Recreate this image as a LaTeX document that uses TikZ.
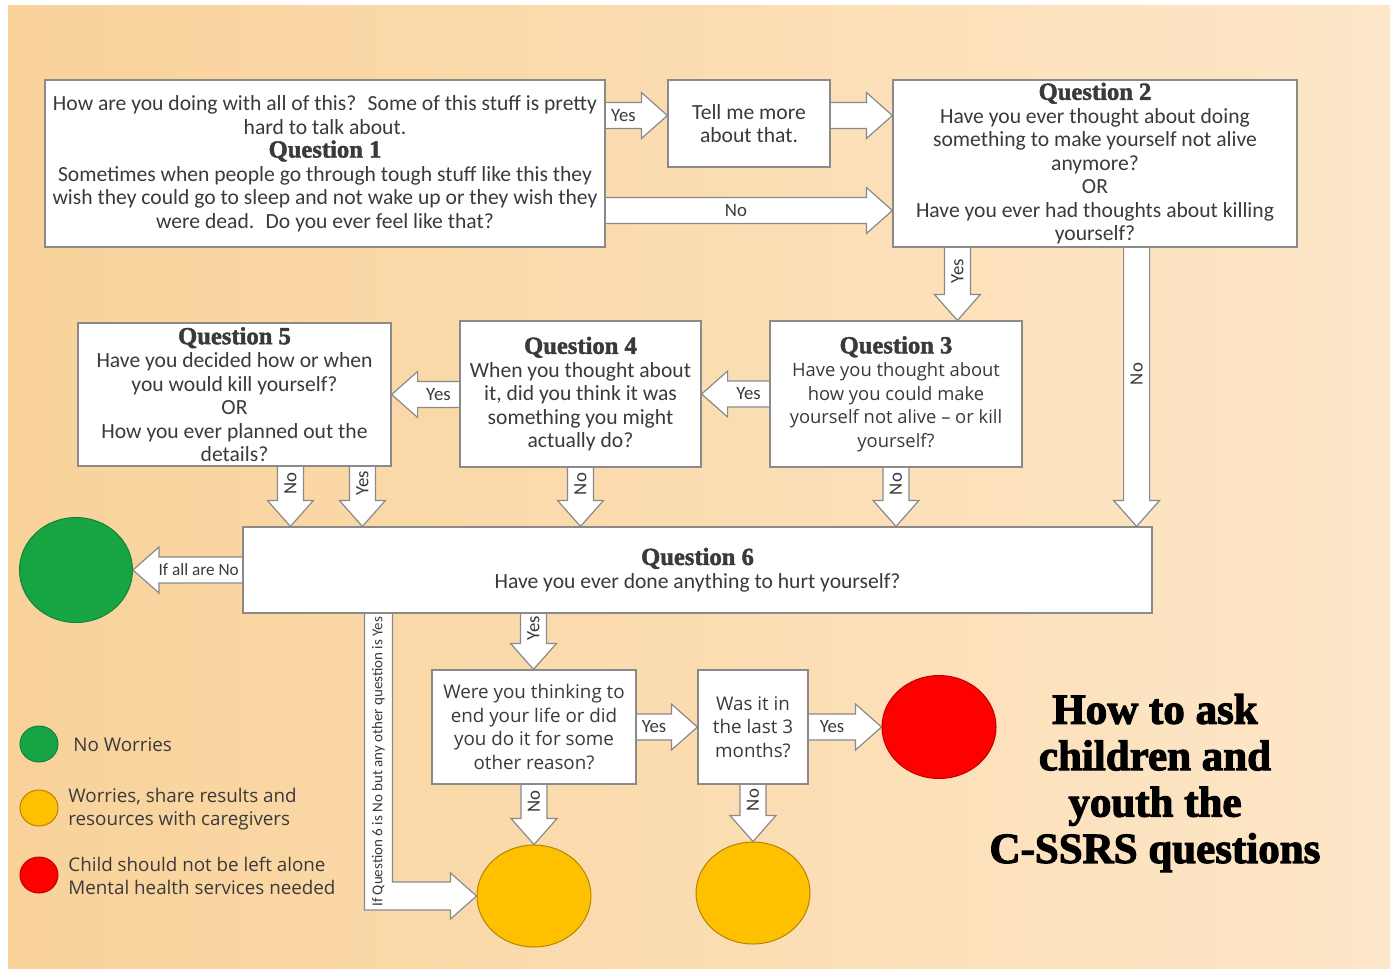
\documentclass[tikz,border=0pt]{standalone}
\usepackage{fontspec}
\setmainfont{Carlito}
\newfontfamily\widefont{Open Sans}
\newfontfamily\headfont[FakeBold=1.8]{Liberation Serif}
\newfontfamily\titlefont[FakeBold=2.6]{Liberation Serif}
\usetikzlibrary{calc, shapes.geometric, backgrounds}

\definecolor{bgleft}{HTML}{F9D29A}
\definecolor{bgright}{HTML}{FDE7C9}
\definecolor{boxline}{HTML}{8A8A8A}
\definecolor{txt}{HTML}{3A3A3A}
\definecolor{okgreen}{HTML}{17A443}
\definecolor{warnorange}{HTML}{FFC000}
\definecolor{dangerred}{HTML}{FF0000}

\newcommand{\shaftw}{6.5pt}
\newcommand{\headw}{11.5pt}
\newcommand{\headl}{13pt}
\newcommand{\qhead}[1]{{\headfont\bfseries\fontsize{12.3}{13}\selectfont #1}}

\tikzset{
  qbox/.style={draw=boxline, line width=0.6pt, fill=white, text=txt, align=center,
    inner sep=0pt, font=\fontsize{10.8}{11.75}\selectfont},
  widebox/.style={qbox, font=\widefont\fontsize{9.4}{11.75}\selectfont},
  blockarrow/.style={draw=boxline, line width=0.6pt, fill=white, line join=miter},
  arrowlabel/.style={text=txt, inner sep=0pt, font=\fontsize{9.4}{10}\selectfont},
  verdict/.style={ellipse, inner sep=0pt, line width=0.5pt},
  legendtext/.style={anchor=west, align=left, text=txt, inner sep=0pt,
    font=\widefont\fontsize{9.4}{11.75}\selectfont},
}

% block arrows: #2 gives the back end, #3 the tip
\newcommand{\arrowR}[4][]{%
  \begin{pgfonlayer}{background}
  \draw[blockarrow] let \p1=(#2), \p2=(#3) in
    (\x1,\y2+\shaftw) -- (\x2-\headl,\y2+\shaftw) -- (\x2-\headl,\y2+\headw) -- (\x2,\y2)
    -- (\x2-\headl,\y2-\headw) -- (\x2-\headl,\y2-\shaftw) -- (\x1,\y2-\shaftw)
    node[arrowlabel,#1] at ({(\x1+\x2-\headl)/2},\y2) {#4};
  \end{pgfonlayer}}
\newcommand{\arrowL}[4][]{%
  \begin{pgfonlayer}{background}
  \draw[blockarrow] let \p1=(#2), \p2=(#3) in
    (\x1,\y2+\shaftw) -- (\x2+\headl,\y2+\shaftw) -- (\x2+\headl,\y2+\headw) -- (\x2,\y2)
    -- (\x2+\headl,\y2-\headw) -- (\x2+\headl,\y2-\shaftw) -- (\x1,\y2-\shaftw)
    node[arrowlabel,#1] at ({(\x1+\x2+\headl)/2},\y2) {#4};
  \end{pgfonlayer}}
\newcommand{\arrowD}[4][]{%
  \begin{pgfonlayer}{background}
  \draw[blockarrow] let \p1=(#2), \p2=(#3) in
    (\x1-\shaftw,\y1) -- (\x1-\shaftw,\y2+\headl) -- (\x1-\headw,\y2+\headl) -- (\x1,\y2)
    -- (\x1+\headw,\y2+\headl) -- (\x1+\shaftw,\y2+\headl) -- (\x1+\shaftw,\y1)
    node[arrowlabel,rotate=90,#1] at (\x1,{(\y1+\y2+\headl)/2}) {#4};
  \end{pgfonlayer}}

\begin{document}
\begin{tikzpicture}[x=0.5pt, y=-0.5pt]
    \useasboundingbox (0,0) rectangle (1396,971);
    \begin{pgfonlayer}{background}
    \fill[white] (0,0) rectangle (1396,971);
    \shade[left color=bgleft, right color=bgright] (8,5) rectangle (1390,968);
    \end{pgfonlayer}

    % first row
    \node[qbox, minimum width=280pt, minimum height=83.5pt] (q1) at (325,163.5)
      {How are you doing with all of this?~ Some of this stuff is pretty\\
       hard to talk about.\\
       \qhead{Question 1}\\
       Sometimes when people go through tough stuff like this they\\
       wish they could go to sleep and not wake up or they wish they\\
       were dead.~ Do you ever feel like that?};
    \node[qbox, minimum width=81pt, minimum height=43.5pt] (tell) at (749,123.5)
      {Tell me more\\ about that.};
    \node[qbox, minimum width=202pt, minimum height=83.5pt] (q2) at (1095,163.5)
      {\qhead{Question 2}\\ Have you ever thought about doing\\
       something to make yourself not alive\\ anymore?\\ OR\\
       Have you ever had thoughts about killing\\ yourself?};

    % second row
    \node[widebox, font=\widefont\fontsize{9.2}{11.75}\selectfont,
      minimum width=126pt, minimum height=73pt] (q3) at (896,394)
      {\qhead{Question 3}\\ Have you thought about\\ how you could make\\
       yourself not alive \textendash{} or kill\\ yourself?};
    \node[qbox, minimum width=120.5pt, minimum height=73pt] (q4) at (580.5,394)
      {\qhead{Question 4}\\ When you thought about\\ it, did you think it was\\
       something you might\\ actually do?};
    \node[qbox, minimum width=156.5pt, minimum height=71.5pt] (q5) at (234.5,394.5)
      {\qhead{Question 5}\\ Have you decided how or when\\ you would kill yourself?\\
       OR\\ How you ever planned out the\\ details?};

    % question 6
    \node[qbox, minimum width=454.5pt, minimum height=43pt] (q6) at (697.5,570)
      {\qhead{Question 6}\\ Have you ever done anything to hurt yourself?};
    \node[verdict, fill=okgreen, draw=okgreen!80!black,
      minimum width=56.5pt, minimum height=52.5pt] (ok) at (76,570) {};

    % last row
    \node[widebox, minimum width=102pt, minimum height=57pt] (q7) at (534,727)
      {Were you thinking to\\ end your life or did\\ you do it for some\\ other reason?};
    \node[widebox, minimum width=55pt, minimum height=57pt] (q8) at (753,727)
      {Was it in\\ the last 3\\ months?};
    \node[verdict, fill=dangerred, draw=dangerred!75!black,
      minimum width=57pt, minimum height=51.5pt] (danger) at (939,727) {};
    \node[verdict, fill=warnorange, draw=warnorange!70!black,
      minimum width=57pt, minimum height=51pt] (warn1) at (534,896) {};
    \node[verdict, fill=warnorange, draw=warnorange!70!black,
      minimum width=57pt, minimum height=51pt] (warn2) at (753,893) {};

    % arrows
    \arrowR{q1.east}{$(tell.west)+(0,-8)$}{Yes}
    \arrowR{tell.east}{$(q2.west)+(0,-48)$}{}
    \arrowR{q1.east}{$(q2.west)+(0,47)$}{No}
    \arrowD{$(q2.south west)+(65,0)$}{q3.north}{Yes}
    \arrowD{$(q2.south east)+(-161,0)$}{q6.north}{No}
    \arrowL{q3.west}{q4.east}{Yes}
    \arrowL{q4.west}{q5.east}{Yes}
    \arrowD{$(q5.south west)+(213,0)$}{q6.north}{No}
    \arrowD{$(q5.south west)+(285,0)$}{q6.north}{Yes}
    \arrowD{q4.south}{q6.north}{No}
    \arrowD{q3.south}{q6.north}{No}
    \arrowL[font=\fontsize{8.6}{9}\selectfont, xshift=-1pt]{q6.west}{ok.east}{If all are No}
    \arrowD{$(q6.south)+(-164,0)$}{q7.north}{Yes}
    \arrowR{q7.east}{q8.west}{Yes}
    \arrowR{q8.east}{danger.west}{Yes}
    \arrowD{q7.south}{warn1.north}{No}
    \arrowD{q8.south}{warn2.north}{No}

    % bent arrow from question 6 to the first orange result
    \coordinate (bend) at ($(q6.south west)+(136,0)$);
    \begin{pgfonlayer}{background}
    \draw[blockarrow] let \p1=(bend), \p2=(warn1.west) in
      (\x1-7pt,\y1) -- (\x1-7pt,\y2-7pt) -- (\x2-\headl,\y2-7pt) -- (\x2-\headl,\y2-\headw)
      -- (\x2,\y2) -- (\x2-\headl,\y2+\headw) -- (\x2-\headl,\y2+7pt) -- (\x1+7pt,\y2+7pt)
      -- (\x1+7pt,\y1)
      node[arrowlabel, rotate=90, font=\fontsize{7.5}{8}\selectfont]
        at (\x1,{(\y1+\y2-7pt)/2}) {If Question 6 is No but any other question is Yes};
    \end{pgfonlayer}

    % legend
    \node[verdict, fill=okgreen, draw=okgreen!80!black, minimum width=19pt, minimum height=18pt] (lgok) at (39,744) {};
    \node[verdict, fill=warnorange, draw=warnorange!70!black, minimum width=19pt, minimum height=18pt] (lgwarn) at (39,808) {};
    \node[verdict, fill=dangerred, draw=dangerred!75!black, minimum width=19pt, minimum height=18pt] (lgdanger) at (39,875) {};
    \node[legendtext] (lgoktext) at (73,745) {No Worries};
    \node[legendtext] (lgwarntext) at (68,809) {Worries, share results and\\ resources with caregivers};
    \node[legendtext] (lgdangertext) at (68,876) {Child should not be left alone\\ Mental health services needed};

    % title
    \node[align=center, inner sep=0pt, font=\titlefont\bfseries\fontsize{21.5}{23.2}\selectfont] (title) at (1155,783)
      {How to ask\\ children and\\ youth the\\ C-SSRS questions};
\end{tikzpicture}
\end{document}
